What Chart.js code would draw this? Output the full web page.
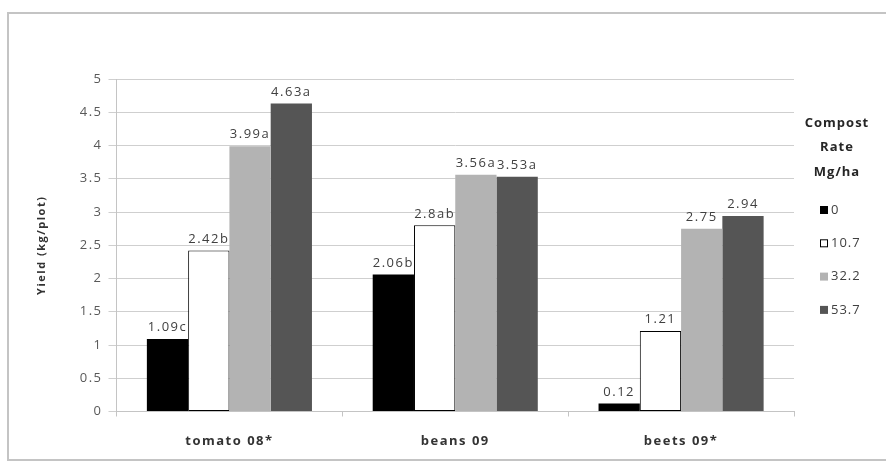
<!DOCTYPE html>
<html>
<head>
<meta charset="utf-8">
<title>Yield by compost rate</title>
<script src="https://cdn.jsdelivr.net/npm/chart.js@4.4.1/dist/chart.umd.min.js"></script>
<style>
  html, body { margin: 0; padding: 0; background: #fff; }
  #wrap { position: relative; width: 886px; height: 464px; overflow: hidden; }
  #frame {
    position: absolute; left: 7px; top: 12px; width: 890px; height: 449px;
    border: 2px solid #c4c4c4; box-sizing: border-box;
  }
  #chart { position: absolute; left: 0; top: 0; }
</style>
</head>
<body>
<div id="wrap">
  <div id="frame"></div>
  <canvas id="chart" width="886" height="464"></canvas>
</div>
<script>
// crops and compost rates (Mg/ha)
const crops = ['tomato 08*', 'beans 09', 'beets 09*'];
const rates = ['0', '10.7', '32.2', '53.7'];

// yield in kg/plot, one array per compost rate
const rate0 = [1.09, 2.06, 0.12];
const rate10 = [2.42, 2.8, 1.21];
const rate32 = [3.99, 3.56, 2.75];
const rate53 = [4.63, 3.53, 2.94];

// mean separation letters printed after each value
const letters0 = ['c', 'b', ''];
const letters10 = ['b', 'ab', ''];
const letters32 = ['a', 'a', ''];
const letters53 = ['a', 'a', ''];

const yTicks = [0, 0.5, 1, 1.5, 2, 2.5, 3, 3.5, 4, 4.5, 5];
const yTickLabels = ['0', '0.5', '1', '1.5', '2', '2.5', '3', '3.5', '4', '4.5', '5'];

const legendTitle = ['Compost', 'Rate', 'Mg/ha'];

const FONT = '"Open Sans", "DejaVu Sans", sans-serif';
Chart.defaults.font.family = FONT;

// the old spreadsheet export draws its text quite wide
const spacing = {
  id: 'spacing',
  beforeUpdate(chart) { chart.ctx.letterSpacing = '1.5px'; },
  beforeLayout(chart) { chart.ctx.letterSpacing = '1.5px'; },
  beforeDraw(chart) { chart.ctx.letterSpacing = '1.5px'; }
};

// value + letter above each bar
const barLabels = {
  id: 'barLabels',
  afterDatasetsDraw(chart) {
    const ctx = chart.ctx;
    ctx.save();
    ctx.letterSpacing = '1.5px';
    ctx.font = '13px ' + FONT;
    ctx.fillStyle = '#404040';
    ctx.textAlign = 'center';
    ctx.textBaseline = 'bottom';
    chart.data.datasets.forEach((ds, i) => {
      chart.getDatasetMeta(i).data.forEach((bar, j) => {
        const text = String(ds.data[j]) + ds.letters[j];
        ctx.fillText(text, bar.x, bar.y - 5);
      });
    });
    ctx.restore();
  }
};

// stacked title and swatches on the right
const sideLegend = {
  id: 'sideLegend',
  afterDraw(chart) {
    const ctx = chart.ctx;
    const right = chart.chartArea.right;
    const cx = right + 43;
    ctx.save();
    ctx.letterSpacing = '1px';
    ctx.textBaseline = 'middle';
    ctx.textAlign = 'center';
    ctx.fillStyle = '#262626';
    ctx.font = 'bold 13px ' + FONT;
    legendTitle.forEach((line, k) => ctx.fillText(line, cx, 123 + k * 24.5));

    ctx.textAlign = 'left';
    ctx.font = '13px ' + FONT;
    chart.data.datasets.forEach((ds, i) => {
      const y = 210 + i * 33.3;
      const bx = right + 26;
      ctx.fillStyle = ds.backgroundColor;
      ctx.fillRect(bx, y - 4, 8, 8);
      if (ds.borderWidth) {
        ctx.strokeStyle = ds.borderColor;
        ctx.lineWidth = 1;
        ctx.strokeRect(bx + 0.5, y - 3.5, 7, 7);
      }
      ctx.fillStyle = '#404040';
      ctx.fillText(ds.label, bx + 11, y);
    });
    ctx.restore();
  }
};

function series(label, data, letters, fill, border, bw) {
  return {
    label: label,
    data: data,
    letters: letters,
    backgroundColor: fill,
    borderColor: border,
    borderWidth: bw,
    borderSkipped: false,
    categoryPercentage: 0.731,
    barPercentage: 1.0
  };
}

new Chart(document.getElementById('chart'), {
  type: 'bar',
  data: {
    labels: crops,
    datasets: [
      series(rates[0], rate0, letters0, '#000000', '#000000', 0),
      series(rates[1], rate10, letters10, '#ffffff', '#000000', 1),
      series(rates[2], rate32, letters32, '#b3b3b3', '#b3b3b3', 0),
      series(rates[3], rate53, letters53, '#555555', '#555555', 0)
    ]
  },
  options: {
    responsive: false,
    animation: false,
    devicePixelRatio: 1,
    layout: { padding: { top: 79, right: 92, bottom: 12.5, left: 0 } },
    plugins: {
      legend: { display: false },
      tooltip: { enabled: false }
    },
    scales: {
      x: {
        grid: { display: true, drawOnChartArea: false, offset: true, tickLength: 5, color: '#c4c4c4' },
        border: { display: true, color: '#c4c4c4' },
        ticks: { color: '#333333', padding: 17, font: { size: 13, weight: 'bold' } },
        afterFit(scale) { scale.height = 40; }
      },
      y: {
        min: 0,
        max: 5,
        afterBuildTicks(scale) { scale.ticks = yTicks.map(v => ({ value: v })); },
        ticks: {
          color: '#595959',
          padding: 6,
          font: { size: 13 },
          callback: (v) => yTickLabels[yTicks.indexOf(v)]
        },
        grid: { color: '#cfcfcf', tickLength: 8 },
        border: { display: true, color: '#c4c4c4' },
        title: {
          display: true,
          text: 'Yield (kg/plot)',
          color: '#333333',
          font: { size: 11, weight: 'bold' },
          padding: { top: 35, bottom: 0 }
        },
        afterFit(scale) { scale.width = 116.5; }
      }
    }
  },
  plugins: [spacing, barLabels, sideLegend]
});
</script>
</body>
</html>
